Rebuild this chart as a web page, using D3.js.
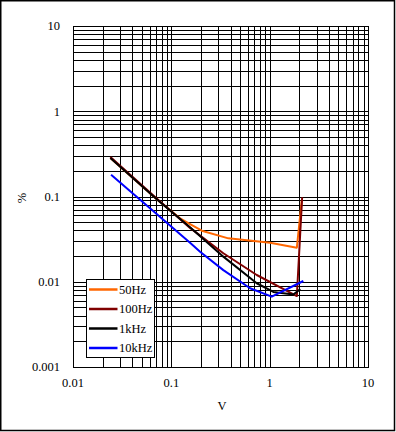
<!DOCTYPE html>
<html lang="en">
<head>
    <meta charset="UTF-8">
    <title>Distortion vs Voltage</title>
    <script src="https://cdn.jsdelivr.net/npm/d3@7"></script>
    <style>
        body { margin: 0; background: #fff; }
        text { font-family: "Liberation Serif", "Times New Roman", serif; font-size: 12.5px; fill: #000; }
        .grid line { stroke: #000; stroke-width: 1px; shape-rendering: crispEdges; }
        .curve { fill: none; stroke-width: 2px; stroke-linejoin: round; }
    </style>
</head>
<body>
    <div id="chart"></div>
    <script>
        "use strict";

        // series names and colours (legend order)
        var seriesNames = ["50Hz", "100Hz", "1kHz", "10kHz"];
        var seriesColors = ["#ff6600", "#800000", "#000000", "#0000ff"];

        // [V, %]
        var data50Hz = [[0.024, 0.283], [0.071, 0.0927], [0.1227, 0.0554], [0.155, 0.0475], [0.204, 0.0397],
            [0.38, 0.0323], [1.01, 0.0287], [1.89, 0.0251], [2.12, 0.09]];
        var data100Hz = [[0.024, 0.29], [0.071, 0.095], [0.155, 0.0428], [0.338, 0.0216], [0.739, 0.012],
            [1.89, 0.0068], [2.14, 0.098]];
        var data1kHz = [[0.024, 0.283], [0.071, 0.0927], [0.155, 0.0435], [0.338, 0.0197], [0.739, 0.0096],
            [1.09, 0.0076], [1.74, 0.0071], [2.05, 0.0082]];
        var data10kHz = [[0.0244, 0.18], [0.155, 0.0287], [0.196, 0.0225], [0.338, 0.0137], [0.632, 0.0084],
            [1.05, 0.00668], [2.2, 0.0102]];

        var xTicks = [0.01, 0.1, 1, 10];
        var yTicks = [0.001, 0.01, 0.1, 1, 10];

        var W = 396, H = 432;
        var plot = { left: 73, right: 368, top: 26, bottom: 367 };

        var svg = d3.select("#chart").append("svg")
            .attr("width", W)
            .attr("height", H);

        // outer frame
        svg.append("rect")
            .attr("x", 0.75).attr("y", 0.75)
            .attr("width", 393.75).attr("height", 429.75)
            .attr("fill", "#fff")
            .attr("stroke", "#000")
            .attr("stroke-width", 1.5);

        var x = d3.scaleLog().domain([0.01, 10]).range([plot.left, plot.right]);
        var y = d3.scaleLog().domain([0.001, 10]).range([plot.bottom, plot.top]);

        // all 1..9 lines per decade
        function gridValues(lo, hi) {
            var out = [];
            for (var e = Math.log10(lo); e < Math.log10(hi); e++) {
                for (var m = 1; m < 10; m++) out.push(m * Math.pow(10, e));
            }
            out.push(hi);
            return out;
        }

        function crisp(v) { return Math.round(v) + 0.5; }

        var grid = svg.append("g").attr("class", "grid");
        grid.selectAll(".vx").data(gridValues(0.01, 10)).enter().append("line")
            .attr("x1", function (d) { return crisp(x(d)); })
            .attr("x2", function (d) { return crisp(x(d)); })
            .attr("y1", plot.top).attr("y2", plot.bottom + 1);
        grid.selectAll(".hy").data(gridValues(0.001, 10)).enter().append("line")
            .attr("y1", function (d) { return crisp(y(d)); })
            .attr("y2", function (d) { return crisp(y(d)); })
            .attr("x1", plot.left).attr("x2", plot.right + 1);

        // tick labels
        var fmt = function (d) { return String(+d.toPrecision(3)); };
        svg.append("g").selectAll("text").data(xTicks).enter().append("text")
            .attr("x", function (d) { return x(d); })
            .attr("y", 387)
            .attr("text-anchor", "middle")
            .text(fmt);
        svg.append("g").selectAll("text").data(yTicks).enter().append("text")
            .attr("x", 60)
            .attr("y", function (d) { return y(d); })
            .attr("dy", "0.35em")
            .attr("text-anchor", "end")
            .text(fmt);

        // axis titles
        svg.append("text")
            .attr("x", 222).attr("y", 410)
            .attr("text-anchor", "middle")
            .text("V");
        svg.append("text")
            .attr("transform", "translate(26,198) rotate(-90)")
            .attr("text-anchor", "middle")
            .text("%");

        // curves
        var line = d3.line()
            .x(function (d) { return x(d[0]); })
            .y(function (d) { return y(d[1]); });

        var allSeries = [data50Hz, data100Hz, data1kHz, data10kHz];
        svg.append("g").selectAll("path").data(allSeries).enter().append("path")
            .attr("class", "curve")
            .attr("stroke", function (d, i) { return seriesColors[i]; })
            .attr("d", line);

        // legend
        var legend = svg.append("g").attr("transform", "translate(86.5,279.5)");
        legend.append("rect")
            .attr("width", 68).attr("height", 78)
            .attr("fill", "#fff")
            .attr("stroke", "#000")
            .attr("stroke-width", 1);
        var item = legend.selectAll(".item").data(seriesNames).enter().append("g")
            .attr("transform", function (d, i) { return "translate(0," + (10 + i * 19.5) + ")"; });
        item.append("line")
            .attr("x1", 2.5).attr("x2", 31)
            .attr("stroke", function (d, i) { return seriesColors[i]; })
            .attr("stroke-width", 2.5);
        item.append("text")
            .attr("x", 32.5)
            .attr("dy", "0.35em")
            .text(function (d) { return d; });
    </script>
</body>
</html>
